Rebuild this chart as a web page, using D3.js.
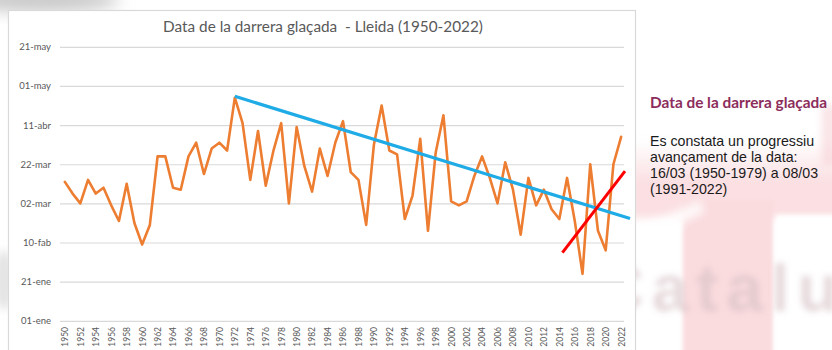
<!DOCTYPE html>
<html>
<head>
<meta charset="utf-8">
<script src="https://cdn.jsdelivr.net/npm/d3@7/dist/d3.min.js"></script>
<style>
  html, body { margin: 0; padding: 0; background: #fff; }
  svg { display: block; }
</style>
</head>
<body>
<svg id="chart" width="832" height="350"></svg>
<script>
// Last frost date in Lleida, expressed as day of the year (1 = 1 January)
const years = d3.range(1950, 2023);
const lastFrostDay = [
  72, 66, 61, 73, 66, 69, 60, 52, 71, 51,
  40, 50, 85, 85, 69, 68, 85, 92, 76, 89,
  92, 88, 115, 102, 73, 98, 70, 88, 102, 61,
  100, 80, 67, 89, 75, 92, 103, 77, 73, 50,
  91, 111, 88, 86, 53, 65, 94, 47, 87, 106,
  62, 60, 62, 75, 85, 74, 61, 82, 68, 45,
  74, 60, 68, 58, 53, 74, 52, 25, 81, 47,
  37, 81, 95
];

// Long-term trend (blue) and recent trend (red), as [year, day] end points
const trendYears = [1972, 2023.15];
const trendDays = [115.7, 53.3];
const recentYears = [2014.4, 2022.5];
const recentDays = [35.8, 77.5];

// Value axis ticks (every 20 days)
const yTickDays = [1, 21, 41, 61, 81, 101, 121, 141];
const yTickLabels = ["01-ene", "21-ene", "10-fab", "02-mar", "22-mar", "11-abr", "01-may", "21-may"];

const chartTitle = "Data de la darrera glaçada  - Lleida (1950-2022)";
const sideHeading = "Data de la darrera glaçada";
const sideLines = [
  "Es constata un progressiu",
  "avançament de la data:",
  "16/03 (1950-1979) a 08/03",
  "(1991-2022)"
];

const svg = d3.select("#chart");
const FONT = "Lato, 'Open Sans', 'DejaVu Sans', sans-serif";
const BODY_FONT = "'Liberation Sans', Arial, sans-serif";

// ---- soft slide background ----
const defs = svg.append("defs");
[["blur2", 2], ["blur3", 3], ["blur4", 4], ["blur8", 8]].forEach(([id, s]) => {
  defs.append("filter").attr("id", id)
    .attr("x", "-50%").attr("y", "-50%").attr("width", "200%").attr("height", "200%")
    .append("feGaussianBlur").attr("stdDeviation", s);
});
const pinkFade = defs.append("linearGradient").attr("id", "pinkFade")
  .attr("x1", 0).attr("y1", 0).attr("x2", 0).attr("y2", 1);
pinkFade.append("stop").attr("offset", 0).attr("stop-color", "#fbdfe2").attr("stop-opacity", 0);
pinkFade.append("stop").attr("offset", 0.55).attr("stop-color", "#fbdfe2").attr("stop-opacity", 1);
pinkFade.append("stop").attr("offset", 1).attr("stop-color", "#fbdfe2").attr("stop-opacity", 1);

svg.append("rect").attr("width", 832).attr("height", 350).attr("fill", "#fff");

// grey shadow top-left
svg.append("ellipse").attr("cx", 40).attr("cy", 0).attr("rx", 80).attr("ry", 12)
  .attr("fill", "#c8c8c8").attr("filter", "url(#blur8)");
svg.append("ellipse").attr("cx", 4).attr("cy", 280).attr("rx", 10).attr("ry", 30)
  .attr("fill", "#e4e4e4").attr("filter", "url(#blur4)");

// pink area on the right
const side = svg.append("g");
side.append("rect").attr("x", 630).attr("y", 140).attr("width", 210).attr("height", 78)
  .attr("fill", "url(#pinkFade)").attr("filter", "url(#blur4)");
side.append("rect").attr("x", 683).attr("y", 200).attr("width", 90).attr("height", 160)
  .attr("fill", "#fadbde").attr("filter", "url(#blur2)");
side.append("path").attr("d", "M630,232 L700,200 L705,212 L636,246 Z")
  .attr("fill", "#fff").attr("opacity", 0.8).attr("filter", "url(#blur4)");
side.append("rect").attr("x", 776).attr("y", 215).attr("width", 60).attr("height", 140)
  .attr("fill", "#fff").attr("filter", "url(#blur2)");
side.append("rect").attr("x", 822).attr("y", 105).attr("width", 14).attr("height", 60)
  .attr("fill", "#f4c6cc").attr("opacity", 0.5).attr("filter", "url(#blur4)");
side.append("text").attr("x", 596).attr("y", 311)
  .attr("font-family", "'Liberation Sans', Arial, sans-serif").attr("font-weight", "bold")
  .attr("font-size", 66).attr("letter-spacing", 8)
  .attr("fill", "#d6c0c4").attr("opacity", 0.6).attr("filter", "url(#blur3)")
  .text("Catalunya");

// ---- chart frame ----
svg.append("rect").attr("x", 8.5).attr("y", 10.5).attr("width", 627).attr("height", 350)
  .attr("fill", "#fff").attr("stroke", "#d9d9d9").attr("stroke-width", 1.2);

const x = d3.scaleLinear().domain([1949.5, 2022.5]).range([61, 625]);
const y = d3.scaleLinear().domain([1, 141]).range([320.8, 46.8]);

// gridlines
const yAxis = d3.axisLeft(y).tickValues(yTickDays)
  .tickFormat((d, i) => yTickLabels[i]).tickSize(0).tickPadding(9);
const gy = svg.append("g").attr("transform", "translate(60,0)").call(yAxis);
gy.select(".domain").remove();
gy.selectAll(".tick line").attr("x2", 564).attr("stroke", "#d9d9d9").attr("stroke-width", 1.2);
gy.selectAll(".tick text").attr("fill", "#595959").attr("font-family", FONT)
  .attr("font-size", 9.5);

// category labels, every two years, rotated
const xAxis = d3.axisBottom(x).tickValues(years.filter(yr => (yr - 1950) % 2 === 0))
  .tickFormat(d3.format("d")).tickSize(0);
const gx = svg.append("g").attr("transform", "translate(0,327)").call(xAxis);
gx.select(".domain").remove();
gx.selectAll(".tick text")
  .attr("transform", "rotate(-90)")
  .attr("text-anchor", "end")
  .attr("x", 0).attr("y", 0).attr("dy", "0.34em")
  .attr("fill", "#595959").attr("font-family", FONT).attr("font-size", 8.5);

// title
function fitWidth(sel, target) {
  const w = sel.node().getComputedTextLength();
  const fs = parseFloat(sel.attr("font-size"));
  const size = fs * target / w;
  sel.attr("font-size", size);
  return size;
}
const title = svg.append("text").attr("x", 323).attr("y", 31.5)
  .attr("text-anchor", "middle").attr("font-family", FONT).attr("font-size", 14)
  .attr("fill", "#595959").attr("xml:space", "preserve").text(chartTitle);
fitWidth(title, 320);

// series
const pts = years.map((yr, i) => [yr, lastFrostDay[i]]);
const line = d3.line().x(d => x(d[0])).y(d => y(d[1]));
svg.append("path").datum(pts).attr("d", line)
  .attr("fill", "none").attr("stroke", "#ed7d31").attr("stroke-width", 2.6)
  .attr("stroke-linejoin", "round").attr("stroke-linecap", "round");

svg.append("path").datum(trendYears.map((yr, i) => [yr, trendDays[i]])).attr("d", line)
  .attr("fill", "none").attr("stroke", "#1eabe6").attr("stroke-width", 3.2);
svg.append("path").datum(recentYears.map((yr, i) => [yr, recentDays[i]])).attr("d", line)
  .attr("fill", "none").attr("stroke", "#ff0000").attr("stroke-width", 3);

// ---- side note ----
const head = svg.append("text").attr("x", 650).attr("y", 108)
  .attr("font-family", FONT).attr("font-weight", 700).attr("font-size", 13)
  .attr("fill", "#8c2d5c").text(sideHeading);
fitWidth(head, 177);
let bodySize = 13;
sideLines.forEach((t, i) => {
  const s = svg.append("text").attr("x", 650).attr("y", 146 + i * 16)
    .attr("font-family", BODY_FONT).attr("font-size", bodySize).attr("fill", "#1a1a1a").text(t);
  if (i === 0) bodySize = Math.min(14.2, fitWidth(s, 173));
  s.attr("font-size", bodySize);
});
</script>
</body>
</html>
